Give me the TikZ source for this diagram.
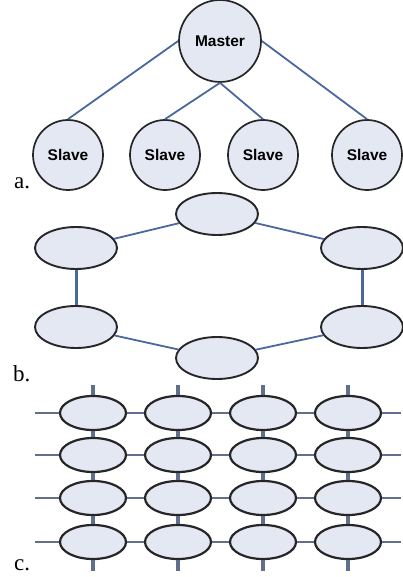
\documentclass[tikz,border=0pt]{standalone}
\usepackage{fontspec}
\setmainfont{Liberation Serif}
\newfontfamily\nodefont{Liberation Sans}
\usetikzlibrary{shapes.geometric}

\definecolor{nodefill}{RGB}{228,232,242}
\definecolor{nodeedge}{RGB}{38,38,40}
\definecolor{linkblue}{RGB}{74,104,158}
\definecolor{meshlink}{RGB}{96,112,140}

\tikzset{
  circnode/.style={circle, draw=nodeedge, fill=nodefill, line width=1.7pt,
    inner sep=0pt, font=\nodefont\bfseries\fontsize{15.5}{18}\selectfont},
  ringnode/.style={ellipse, draw=nodeedge, fill=nodefill, line width=1.9pt,
    inner sep=0pt, minimum width=82pt, minimum height=42pt},
  meshnode/.style={ellipse, draw=nodeedge, fill=nodefill, line width=2.2pt,
    inner sep=0pt, minimum width=66pt, minimum height=34pt},
  link/.style={draw=linkblue, line width=1.8pt},
  thicklink/.style={draw=linkblue, line width=3pt},
  meshh/.style={draw=meshlink, line width=2.2pt},
  meshv/.style={draw=meshlink, line width=3.5pt},
  partlabel/.style={anchor=base west, inner sep=0pt,
    font=\fontsize{23}{26}\selectfont},
}

\begin{document}
\begin{tikzpicture}[x=1pt, y=-1pt]
\useasboundingbox (0,0) rectangle (402,577);

% (a) master/slave tree
\node[circnode, minimum size=82pt] (master) at (220,41) {Master};
\node[circnode, minimum size=70pt] (s1) at (68,155) {Slave};
\node[circnode, minimum size=70pt] (s2) at (165,155) {Slave};
\node[circnode, minimum size=70pt] (s3) at (263,155) {Slave};
\node[circnode, minimum size=70pt] (s4) at (367,155) {Slave};
\draw[link] (master.west) -- (s1.north);
\draw[link] (master.south) -- (s2.north);
\draw[link] (master.south) -- (s3.north);
\draw[link] (master.east) -- (s4.north);
\node[partlabel] (la) at (14,189) {a.};

% (b) ring
\node[ringnode] (rt)  at (217,214) {};
\node[ringnode] (rul) at (76,248)  {};
\node[ringnode] (rur) at (362,248) {};
\node[ringnode] (rll) at (76,327)  {};
\node[ringnode] (rlr) at (362,327) {};
\node[ringnode] (rb)  at (217,358) {};
\draw[link] (rul) -- (rt);
\draw[link] (rt) -- (rur);
\draw[thicklink] (rur.south) -- (rlr.north);
\draw[link] (rlr) -- (rb);
\draw[link] (rb) -- (rll);
\draw[thicklink] (rll.north) -- (rul.south);
\node[partlabel] (lb) at (13,381) {b.};

% (c) 4x4 mesh with open edges
\foreach \c/\x in {1/93, 2/178, 3/263, 4/348} {
  \foreach \r/\y in {1/413, 2/455, 3/498, 4/542} {
    \node[meshnode] (m\r\c) at (\x,\y) {};
  }
}
\foreach \r in {1,2,3,4} {
  \coordinate (wl\r) at (35, 0 |- m\r1);
  \coordinate (wr\r) at (401, 0 |- m\r4);
  \draw[meshh] (wl\r) -- (m\r1.west);
  \draw[meshh] (m\r4.east) -- (wr\r);
  \foreach \c/\n in {1/2, 2/3, 3/4} {
    \draw[meshh] (m\r\c.east) -- (m\r\n.west);
  }
}
\foreach \c in {1,2,3,4} {
  \coordinate (wt\c) at (m1\c |- 0,385);
  \coordinate (wb\c) at (m4\c |- 0,571);
  \draw[meshv] (wt\c) -- (m1\c.north);
  \draw[meshv] (m4\c.south) -- (wb\c);
  \foreach \r/\n in {1/2, 2/3, 3/4} {
    \draw[meshv] (m\r\c.south) -- (m\n\c.north);
  }
}
\node[partlabel] (lc) at (14,570) {c.};
\end{tikzpicture}
\end{document}
